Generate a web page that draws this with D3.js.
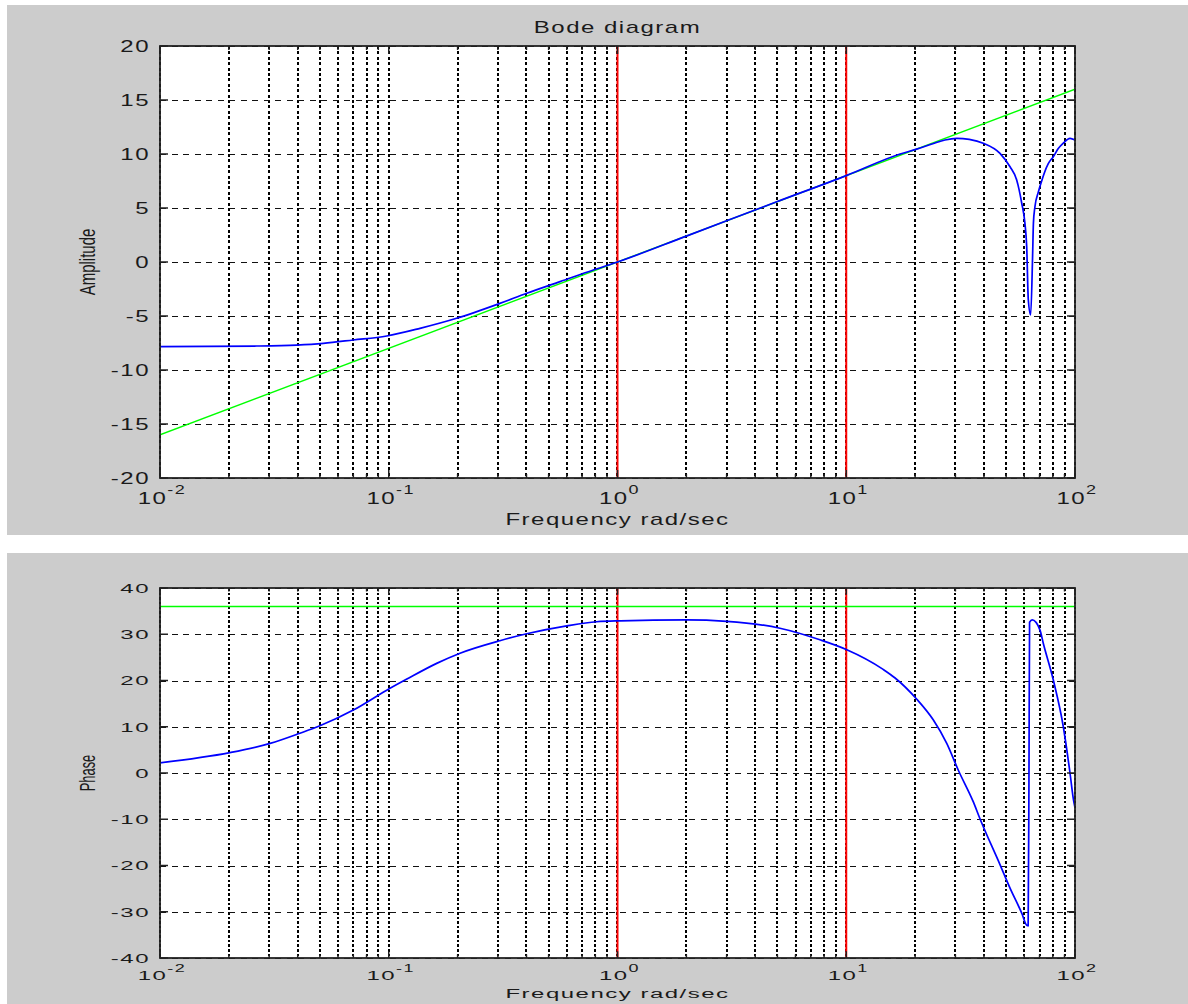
<!DOCTYPE html>
<html>
<head>
<meta charset="utf-8">
<script src="https://cdn.jsdelivr.net/npm/d3@7"></script>
<style>
  body { margin: 0; background: #ffffff; }
  text { font-family: Arial, "Liberation Sans", sans-serif; fill: #1a1a1a; }
</style>
</head>
<body>
<svg id="bode"></svg>
<script>
// frequency axis (rad/sec), log scale
const freqDomain = [0.01, 100];
const decades = [0.01, 0.1, 1, 10, 100];
const decadeExponents = ["-2", "-1", "0", "1", "2"];
const markerFreqs = [1, 10];

// straight reference line (green) end points
const refFreq = [0.01, 100];
const ampRefValues = [-16, 16];
const phaseRefValues = [36, 36];

// amplitude panel
const ampTicks = [-20, -15, -10, -5, 0, 5, 10, 15, 20];
const ampTickLabels = ["-20", "-15", "-10", "-5", "0", "5", "10", "15", "20"];
const ampFreq = [
  0.01, 0.0265, 0.0396, 0.0518, 0.07, 0.098, 0.137, 0.198, 0.306, 0.401,
  0.561, 0.784, 1.0, 2.0, 5.0, 10.0, 17.2, 20.3, 23.9, 27.0, 30.4, 34.5,
  39.7, 47.0, 52.0, 55.6, 58.5, 60.4, 61.5, 62.5, 64.0, 65.3, 65.8, 66.8,
  69.2, 71.5, 73.3, 76.4, 80.4, 84.5, 88.9, 95.1, 100
];
const ampValues = [
  -7.84, -7.78, -7.69, -7.53, -7.22, -6.85, -6.14, -5.21, -3.83, -2.9,
  -1.82, -0.74, 0.0, 2.4, 5.6, 8.0, 10.0, 10.45, 10.95, 11.3, 11.45, 11.35,
  11.0, 10.06, 8.82, 7.6, 5.44, 3.6, 1.4, -3.5, -4.9, 0.8, 3.6, 5.1,
  6.5, 7.5, 8.2, 9.1, 9.75, 10.5, 11.0, 11.45, 11.3
];

// phase panel
const phaseTicks = [-40, -30, -20, -10, 0, 10, 20, 30, 40];
const phaseTickLabels = ["-40", "-30", "-20", "-10", "0", "10", "20", "30", "40"];
const phaseFreq = [
  0.01, 0.0202, 0.0303, 0.0409, 0.05, 0.07, 0.098, 0.12, 0.162, 0.205,
  0.306, 0.401, 0.6, 0.811, 1.03, 2.0, 3.0, 5.13, 7.67, 10.0, 14.5, 16.3,
  20.3, 24.0, 27.5, 30.9, 35.9, 38.5, 47.0, 52.0, 58.5, 61.5, 62.4, 62.9,
  63.3, 65.0, 70.3, 72.7, 80.4, 88.9, 95.1, 98.5, 100
];
const phaseValues = [
  2.2, 4.4, 6.4, 8.6, 10.2, 13.6, 17.9, 20.3, 23.7, 25.9,
  28.6, 30.1, 31.8, 32.7, 32.9, 33.1, 32.8, 31.3, 28.8, 26.7, 22.4, 20.6,
  16.0, 11.5, 6.4, 0.6, -6.2, -10.0, -19.8, -24.9, -30.3, -32.9, -33.0, -2.0,
  32.6, 33.1, 30.9, 28.0, 20.1, 10.0, 0.0, -5.8, -7.5
];

const width = 1188;
const height = 1004;

const svg = d3.select("#bode").attr("width", width).attr("height", height);

svg.append("rect").attr("width", width).attr("height", height).attr("fill", "#ffffff");

const toPoints = (fs, vs) => fs.map((f, i) => ({ f: f, v: vs[i] }));

function scaledText(g, x, y, sx, sy, anchor, size, str) {
  return g
    .append("g")
    .attr("transform", `translate(${x},${y})`)
    .append("text")
    .attr("transform", `scale(${sx},${sy})`)
    .attr("text-anchor", anchor)
    .attr("font-size", size)
    .attr("letter-spacing", 1)
    .text(str);
}

function drawPanel(p) {
  const g = svg.append("g");
  const sx = 1.5;
  const sy = p.sy;

  g.append("rect")
    .attr("x", 7)
    .attr("y", p.boxTop)
    .attr("width", width - 7)
    .attr("height", p.boxBottom - p.boxTop)
    .attr("fill", "#cccccc");

  const x = d3.scaleLog().domain(freqDomain).range([p.left, p.right]);
  const y = d3.scaleLinear().domain([p.ticks[0], p.ticks[p.ticks.length - 1]]).range([p.bottom, p.top]);

  g.append("rect")
    .attr("x", p.left)
    .attr("y", p.top)
    .attr("width", p.right - p.left)
    .attr("height", p.bottom - p.top)
    .attr("fill", "#ffffff");

  const clipId = "clip-" + p.name;
  g.append("clipPath")
    .attr("id", clipId)
    .append("rect")
    .attr("x", p.left)
    .attr("y", p.top)
    .attr("width", p.right - p.left)
    .attr("height", p.bottom - p.top);

  // vertical dotted grid (every log tick)
  g.append("g")
    .attr("shape-rendering", "crispEdges")
    .selectAll("line")
    .data(x.ticks())
    .enter()
    .append("line")
    .attr("x1", (d) => Math.round(x(d)))
    .attr("x2", (d) => Math.round(x(d)))
    .attr("y1", p.top)
    .attr("y2", p.bottom)
    .attr("stroke", "#000")
    .attr("stroke-width", 2)
    .attr("stroke-dasharray", `${3 * sy},${2.4 * sy}`);

  // horizontal dashed grid
  g.append("g")
    .attr("shape-rendering", "crispEdges")
    .selectAll("line")
    .data(p.ticks)
    .enter()
    .append("line")
    .attr("x1", p.left)
    .attr("x2", p.right)
    .attr("y1", (d) => Math.round(y(d)) + 0.5)
    .attr("y2", (d) => Math.round(y(d)) + 0.5)
    .attr("stroke", "#111")
    .attr("stroke-width", 1.2)
    .attr("stroke-dasharray", "6,5.5");

  const plot = g.append("g").attr("clip-path", `url(#${clipId})`);

  plot.selectAll(".marker")
    .data(markerFreqs)
    .enter()
    .append("line")
    .attr("x1", (d) => x(d))
    .attr("x2", (d) => x(d))
    .attr("y1", p.top)
    .attr("y2", p.bottom)
    .attr("stroke", "#ff0000")
    .attr("stroke-width", 2);

  const line = d3.line().x((d) => x(d.f)).y((d) => y(d.v));

  plot.append("path")
    .attr("d", line(toPoints(refFreq, p.refValues)))
    .attr("fill", "none")
    .attr("stroke", "#00ff00")
    .attr("stroke-width", 1.4);

  plot.append("path")
    .attr("d", line.curve(d3.curveMonotoneX)(toPoints(p.freq, p.values)))
    .attr("fill", "none")
    .attr("stroke", "#0000ff")
    .attr("stroke-width", 1.7);

  // frame
  g.append("rect")
    .attr("x", p.left)
    .attr("y", p.top)
    .attr("width", p.right - p.left)
    .attr("height", p.bottom - p.top)
    .attr("fill", "none")
    .attr("stroke", "#222")
    .attr("stroke-width", 1.8);

  // tick marks
  const tickLen = 8;
  g.append("g")
    .selectAll("path")
    .data(p.ticks)
    .enter()
    .append("path")
    .attr("d", (d) => `M${p.left},${y(d)}h${tickLen}M${p.right},${y(d)}h${-tickLen}`)
    .attr("stroke", "#222")
    .attr("stroke-width", 1.5);

  g.append("g")
    .selectAll("path")
    .data(x.ticks())
    .enter()
    .append("path")
    .attr("d", (d) => {
      const len = decades.includes(d) ? tickLen * sy : 4 * sy;
      return `M${x(d)},${p.bottom}v${-len}M${x(d)},${p.top}v${len}`;
    })
    .attr("stroke", "#222")
    .attr("stroke-width", 1.5);

  // y tick labels
  p.ticks.forEach((t, i) => {
    scaledText(g, p.left - 10, y(t) + 5.8 * sy, sx, sy, "end", 16, p.tickLabels[i]);
  });

  // x tick labels 10^n
  decades.forEach((d, i) => {
    const t = g
      .append("g")
      .attr("transform", `translate(${x(d) + 2},${p.bottom + 26 * sy})`)
      .append("text")
      .attr("transform", `scale(${sx},${sy})`)
      .attr("text-anchor", "middle")
      .attr("font-size", 16)
      .attr("letter-spacing", 1);
    t.append("tspan").text("10");
    t.append("tspan")
      .attr("font-size", 12)
      .attr("dy", -10)
      .text(decadeExponents[i]);
  });

  // x label
  scaledText(g, (p.left + p.right) / 2, p.bottom + 47 * sy, sx, sy, "middle", 16, "Frequency rad/sec");

  // y label
  g.append("g")
    .attr("transform", `translate(95,${(p.top + p.bottom) / 2}) rotate(-90)`)
    .append("text")
    .attr("transform", `scale(${sy},${sx})`)
    .attr("text-anchor", "middle")
    .attr("font-size", 15)
    .text(p.ylabel);

  if (p.title) {
    scaledText(g, (p.left + p.right) / 2, p.top - 13, sx, sy, "middle", 16, p.title);
  }
}

drawPanel({
  name: "amp",
  boxTop: 5,
  boxBottom: 535,
  left: 160,
  right: 1075,
  top: 46,
  bottom: 478,
  sy: 1,
  ticks: ampTicks,
  tickLabels: ampTickLabels,
  freq: ampFreq,
  values: ampValues,
  refValues: ampRefValues,
  ylabel: "Amplitude",
  title: "Bode diagram"
});

drawPanel({
  name: "phase",
  boxTop: 553,
  boxBottom: 1004,
  left: 160,
  right: 1075,
  top: 588,
  bottom: 958,
  sy: 0.857,
  ticks: phaseTicks,
  tickLabels: phaseTickLabels,
  freq: phaseFreq,
  values: phaseValues,
  refValues: phaseRefValues,
  ylabel: "Phase",
  title: null
});
</script>
</body>
</html>
